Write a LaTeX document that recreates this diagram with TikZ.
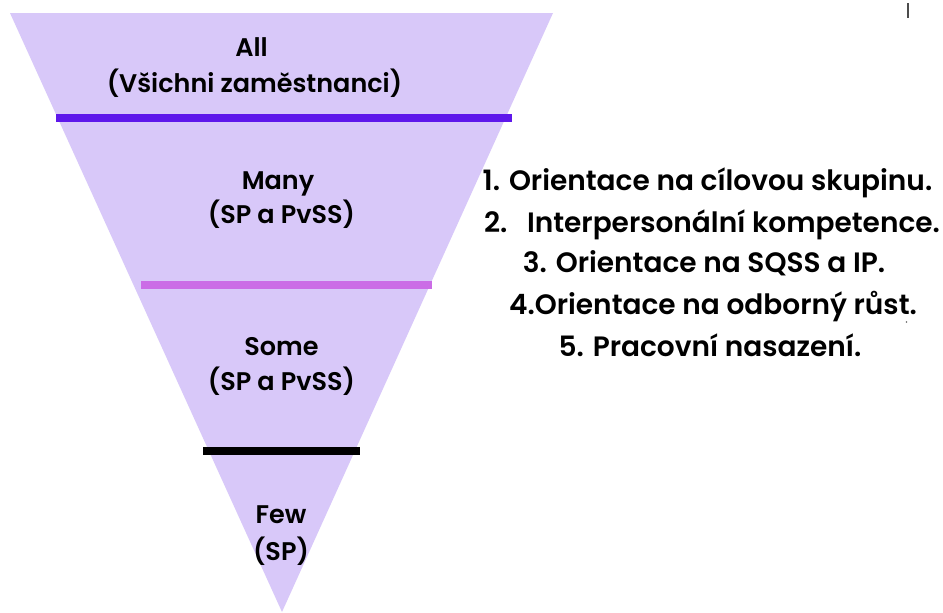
\documentclass[tikz,border=0pt]{standalone}
\usepackage{fontspec}
\setmainfont{Poppins}[UprightFont={* SemiBold}]
\definecolor{funnelfill}{HTML}{D8C8F9}
\definecolor{divA}{HTML}{5E17EB}
\definecolor{divB}{HTML}{CB6CE6}
\definecolor{divC}{HTML}{000000}
\tikzset{
  lbl/.style={anchor=base, inner sep=0pt, font=\fontsize{25.5}{28}\selectfont, text=black},
  item/.style={lbl, font=\fontsize{28}{30}\selectfont},
  divider/.style={line width=7.5pt, line cap=butt},
}
\begin{document}
\begin{tikzpicture}[x=1pt, y=-1pt]
  \useasboundingbox[fill=white] (0,0) rectangle (943,613);
  % funnel
  \fill[funnelfill] (10,13) -- (553,13) -- (282,612) -- cycle;
  % level dividers
  \draw[divider, divA] (56,118) -- (512,118);
  \draw[divider, divB] (141,285) -- (432,285);
  \draw[divider, divC] (203,451) -- (360,451);
  % level labels
  \node[lbl] (allA) at (251.5,56) {All};
  \node[lbl] (allB) at (254.5,92.5) {(Všichni zaměstnanci)};
  \node[lbl] (manyA) at (278,189) {Many};
  \node[lbl] (manyB) at (281.5,223.5) {(SP a PvSS)};
  \node[lbl] (someA) at (281.5,355) {Some};
  \node[lbl] (someB) at (281.5,390) {(SP a PvSS)};
  \node[lbl] (fewA) at (281,523) {Few};
  \node[lbl] (fewB) at (281,560) {(SP)};
  % competence list
  \node[item] (c1) at (707.5,190) {1. Orientace na cílovou skupinu.};
  \node[item] (c2) at (712,232) {2.\hspace{0.7em}Interpersonální kompetence.};
  \node[item] (c3) at (704,272) {3. Orientace na SQSS a IP.};
  \node[item] (c4) at (713,314) {4.Orientace na odborný růst.};
  \node[item] (c5) at (710,356) {5. Pracovní nasazení.};
  % small marks
  \fill[black!70] (907,3) rectangle (909,18);
  \fill[black!60] (906.5,322) circle (0.8);
\end{tikzpicture}
\end{document}
